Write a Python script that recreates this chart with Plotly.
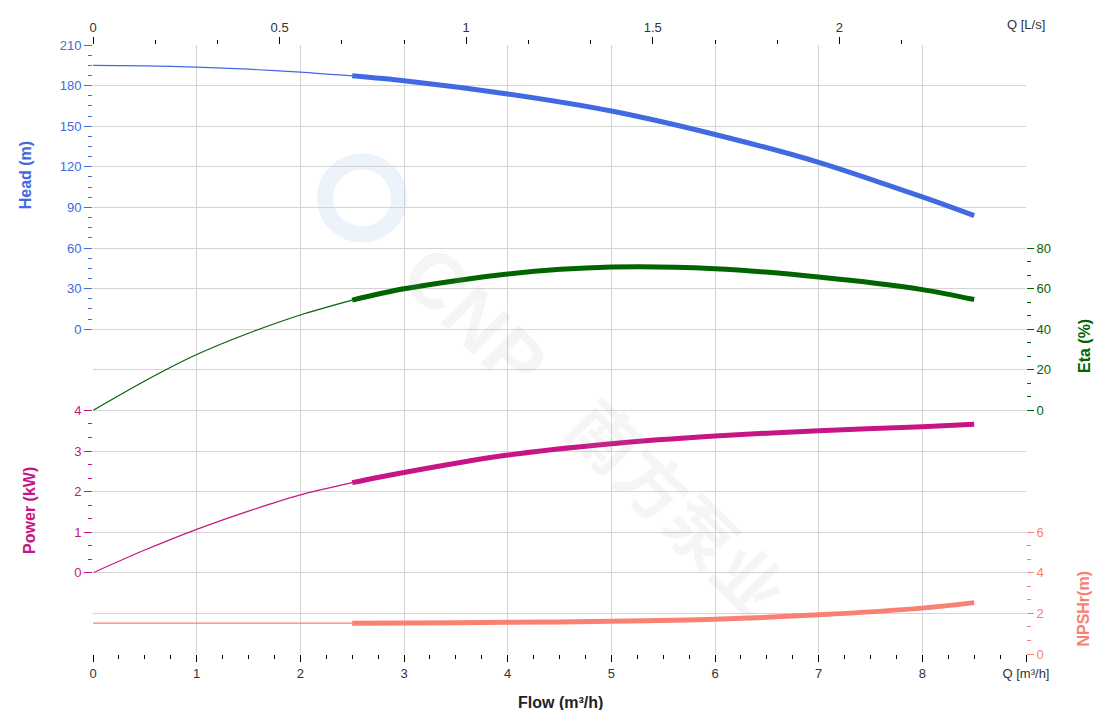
import plotly.graph_objects as go

# ---------------- data ----------------
flow_thin = [0, 0.5, 1, 1.5, 2, 2.5]
flow_thick = [2.5, 3, 4, 5, 6, 7, 8, 8.5]

head_thin = [195.0, 194.6, 193.6, 192.1, 190.0, 187.2]
head_thick = [187.2, 183.6, 173.8, 161.2, 143.9, 123.3, 97.7, 83.9]

eta_thin = [0, 14.5, 27.5, 38.0, 47.0, 54.3]
eta_thick = [54.3, 59.9, 67.2, 70.6, 69.8, 65.7, 59.5, 54.6]

power_thin = [0, 0.56, 1.07, 1.52, 1.92, 2.22]
power_thick = [2.22, 2.47, 2.90, 3.18, 3.37, 3.50, 3.60, 3.66]

npsh_thin = [1.52, 1.52, 1.52, 1.52, 1.52, 1.52]
npsh_thick = [1.52, 1.53, 1.56, 1.61, 1.71, 1.93, 2.26, 2.53]

flow_ticks = [0, 1, 2, 3, 4, 5, 6, 7, 8, 9]
flow_ticktext = ["0", "1", "2", "3", "4", "5", "6", "7", "8", "Q [m³/h]"]
ls_ticks = [0, 0.5, 1, 1.5, 2]
ls_ticktext = ["0", "0.5", "1", "1.5", "2"]
ls_minor = [1/6, 1/3, 2/3, 5/6, 7/6, 4/3, 5/3, 11/6, 13/6]

HEAD_C = "#4169E1"
ETA_C = "#006400"
POW_C = "#C71585"
NPSH_C = "#FA8072"
GRID_C = "#d4d4d4"
FONT = "Arial, Liberation Sans, sans-serif"

fig = go.Figure()

def add_series(thin, thick, color, yax):
    fig.add_trace(go.Scatter(x=flow_thin, y=thin, mode="lines", yaxis=yax,
                             line=dict(color=color, width=1.2, shape="spline", smoothing=0.8),
                             hoverinfo="skip", showlegend=False))
    fig.add_trace(go.Scatter(x=flow_thick, y=thick, mode="lines", yaxis=yax,
                             line=dict(color=color, width=5, shape="spline", smoothing=0.8),
                             showlegend=False))

# invisible traces for the grid base axis and the top axis
fig.add_trace(go.Scatter(x=[0, 9], y=[0, 15], mode="lines", opacity=0,
                         hoverinfo="skip", showlegend=False, yaxis="y"))
fig.add_trace(go.Scatter(x=[0, 2.5], y=[0, 15], mode="lines", opacity=0, xaxis="x2",
                         hoverinfo="skip", showlegend=False, yaxis="y"))

add_series(head_thin, head_thick, HEAD_C, "y2")
add_series(eta_thin, eta_thick, ETA_C, "y3")
add_series(power_thin, power_thick, POW_C, "y4")
add_series(npsh_thin, npsh_thick, NPSH_C, "y5")

def yax(domain, rng, dtick, minor, color, side, ticklen=7):
    return dict(domain=domain, range=rng, dtick=dtick, tick0=0, anchor="x", side=side,
                ticks="outside", ticklen=ticklen, tickwidth=1, tickcolor=color,
                tickfont=dict(color=color, size=13, family=FONT),
                minor=dict(dtick=minor, tick0=0, ticks="outside", ticklen=4, tickcolor=color,
                           showgrid=False),
                showgrid=False, zeroline=False, showline=False, fixedrange=True)

fig.update_layout(
    width=1104, height=702,
    margin=dict(l=85, r=86, t=29, b=56),
    paper_bgcolor="white", plot_bgcolor="rgba(0,0,0,0)",
    font=dict(family=FONT, size=13, color="#333"),
    showlegend=False,
    xaxis=dict(domain=[0, 1], range=[0, 9], anchor="y", side="bottom",
               tickmode="array", tickvals=flow_ticks, ticktext=flow_ticktext,
               ticks="outside", ticklen=7, tickcolor="#000", tickwidth=1,
               tickfont=dict(size=13, color="#333"),
               minor=dict(dtick=0.25, tick0=0, ticks="outside", ticklen=4, tickcolor="#000",
                          showgrid=False),
               showgrid=True, gridcolor=GRID_C, gridwidth=1, zeroline=False, showline=False),
    xaxis2=dict(overlaying="x", range=[0, 2.5], anchor="y", side="top",
                tickmode="array", tickvals=ls_ticks, ticktext=ls_ticktext,
                ticks="outside", ticklen=7, tickcolor="#000", tickwidth=1,
                tickfont=dict(size=13, color="#333"),
                minor=dict(tickmode="array", tickvals=ls_minor, ticks="outside", ticklen=4,
                           tickcolor="#000", showgrid=False),
                showgrid=False, zeroline=False, showline=False),
    yaxis=dict(domain=[0, 1], range=[0, 15], dtick=1, tick0=0, anchor="x",
               showticklabels=False, ticks="", showgrid=True, gridcolor=GRID_C,
               gridwidth=1, zeroline=False, showline=False),
    yaxis2=yax([8/15, 1], [0, 210], 30, 7.5, HEAD_C, "left", 8),
    yaxis3=yax([6/15, 10/15], [0, 80], 20, 20/3, ETA_C, "right", 7),
    yaxis4=yax([2/15, 6/15], [0, 4], 1, 1/3, POW_C, "left", 8),
    yaxis5=yax([0, 3/15], [0, 6], 2, 2/3, NPSH_C, "right", 7),
)

def px_x(p):
    return (p - 93) / 933

def px_y(p):
    return (654 - p) / 617

anns = [
    dict(text="<b>Flow (m³/h)</b>", x=px_x(560), y=px_y(703), size=16, color="#222", angle=0),
    dict(text="<b>Head (m)</b>", x=px_x(25), y=px_y(169), size=16, color=HEAD_C, angle=-90),
    dict(text="<b>Power (kW)</b>", x=px_x(30), y=px_y(508), size=16, color=POW_C, angle=-90),
    dict(text="<b>Eta (%)</b>", x=px_x(1084), y=px_y(342), size=16, color=ETA_C, angle=-90),
    dict(text="<b>NPSHr(m)</b>", x=px_x(1084), y=px_y(608), size=16, color=NPSH_C, angle=-90),
    dict(text="Q [L/s]", x=px_x(1026), y=px_y(16), size=13, color="#333", angle=0),
]
for a in anns:
    fig.add_annotation(text=a["text"], x=a["x"], y=a["y"], xref="paper", yref="paper",
                       showarrow=False, textangle=a["angle"], xanchor="center", yanchor="middle",
                       font=dict(size=a["size"], color=a["color"], family=FONT))

# watermark
fig.add_shape(type="circle", xref="paper", yref="paper",
              x0=px_x(325), x1=px_x(399), y0=px_y(229), y1=px_y(155),
              line=dict(color="rgba(150,190,230,0.18)", width=16), layer="below")
fig.add_annotation(text="<b>CNP</b>", x=px_x(474), y=px_y(314), xref="paper", yref="paper",
                   showarrow=False, textangle=45,
                   font=dict(size=78, color="rgba(160,160,160,0.11)", family=FONT))
fig.add_annotation(text="<b>南方泵业</b>", x=px_x(680), y=px_y(640), xref="paper", yref="paper",
                   showarrow=False, textangle=45,
                   font=dict(size=68, color="rgba(160,160,160,0.11)", family="Noto Sans CJK SC"))

fig.write_html("out.html")
